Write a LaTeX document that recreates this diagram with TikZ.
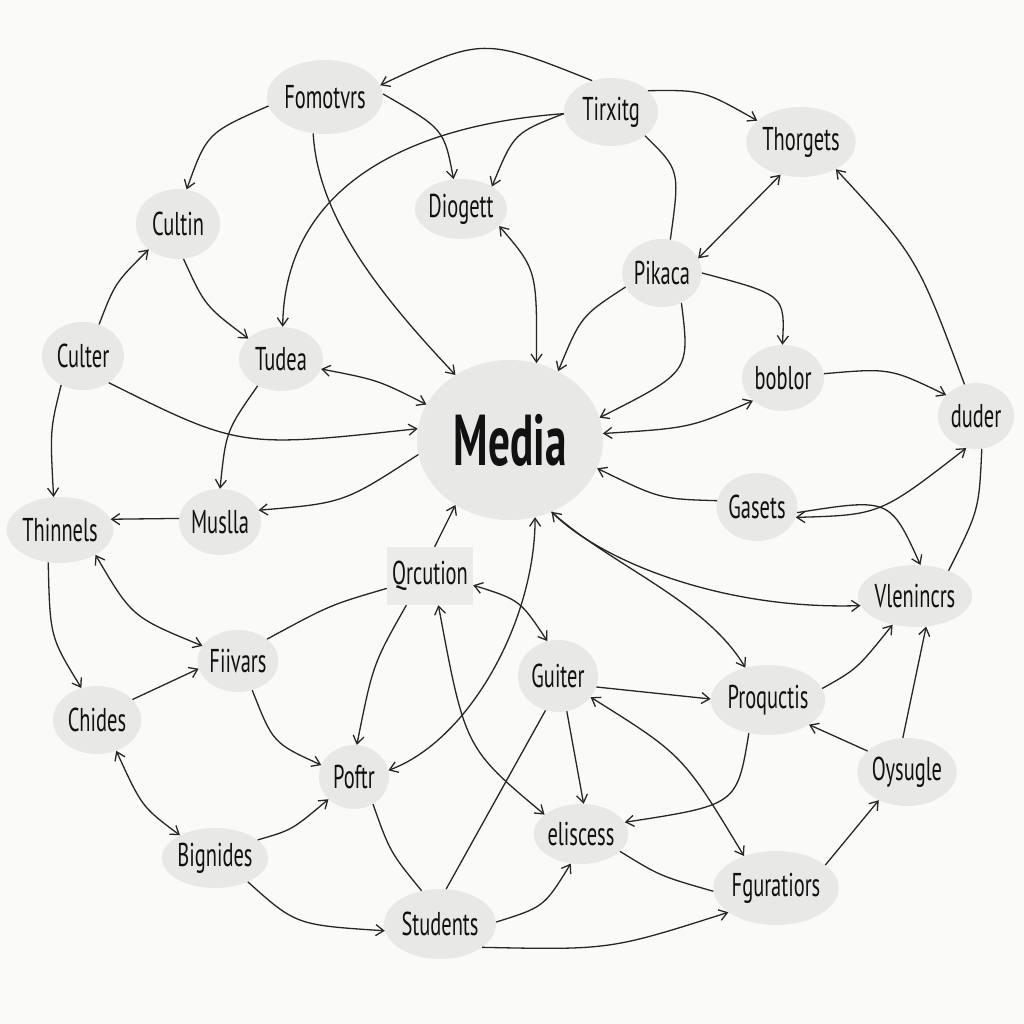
\documentclass[tikz,border=0pt]{standalone}
\usepackage{fontspec}
\setmainfont{PT Sans}[FakeStretch=0.62]
\newfontfamily\mediafont{PT Sans}[FakeStretch=0.6]
\usetikzlibrary{shapes.geometric,arrows.meta}
\definecolor{bg}{HTML}{FAFAF8}
\definecolor{blob}{HTML}{E8E8E6}
\definecolor{ink}{HTML}{262626}
\definecolor{txt}{HTML}{111111}
\tikzset{
  concept/.style={ellipse, fill=blob, inner sep=0pt, text=txt,
    font=\fontsize{33}{36}\selectfont},
  boxnode/.style={rectangle, fill=blob!85!bg, inner sep=0pt, text=txt,
    font=\fontsize{33}{36}\selectfont},
  link/.style={draw=ink, line width=1.3pt},
}
\begin{document}
\begin{tikzpicture}[x=1pt,y=-1pt,>={Straight Barb[length=8pt,width=11pt]}]
\fill[bg] (0,0) rectangle (1024,1024);
\useasboundingbox (0,0) rectangle (1024,1024);

% nodes
\node[concept, minimum width=116pt, minimum height=74pt] (fomo) at (325,97) {Fomotvrs};
\node[concept, minimum width=94pt, minimum height=68pt] (tirx) at (611,112) {Tirxitg};
\node[concept, minimum width=108pt, minimum height=70pt] (thor) at (801,142) {Thorgets};
\node[concept, minimum width=88pt, minimum height=60pt] (diog) at (461,209) {Diogett};
\node[concept, minimum width=84pt, minimum height=70pt] (cultin) at (178,224) {Cultin};
\node[concept, minimum width=78pt, minimum height=68pt] (pika) at (662,273) {Pikaca};
\node[concept, minimum width=82pt, minimum height=68pt] (culter) at (83,356) {Culter};
\node[concept, minimum width=84pt, minimum height=64pt] (tudea) at (281,359) {Tudea};
\node[concept, minimum width=186pt, minimum height=160pt,
      font=\mediafont\bfseries\fontsize{72}{74}\selectfont] (media) at (510,440) {Media};
\node[concept, minimum width=82pt, minimum height=66pt] (boblor) at (783,378) {boblor};
\node[concept, minimum width=76pt, minimum height=66pt] (duder) at (976,416) {duder};
\node[concept, minimum width=80pt, minimum height=68pt] (gasets) at (757,507) {Gasets};
\node[concept, minimum width=92pt, minimum height=66pt] (thin) at (60,530) {Thinnels};
\node[concept, minimum width=76pt, minimum height=66pt] (muslla) at (220,522) {Muslla};
\node[boxnode, minimum width=86pt, minimum height=58pt] (qrc) at (430,576) {Qrcution};
\node[concept, minimum width=88pt, minimum height=62pt] (vlen) at (915,596) {Vlenincrs};
\node[concept, minimum width=80pt, minimum height=62pt] (fiiv) at (238,661) {Fiivars};
\node[concept, minimum width=80pt, minimum height=72pt] (guiter) at (558,676) {Guiter};
\node[concept, minimum width=88pt, minimum height=68pt] (chides) at (97,720) {Chides};
\node[concept, minimum width=100pt, minimum height=70pt] (proq) at (768,700) {Proquctis};
\node[concept, minimum width=82pt, minimum height=68pt] (oysu) at (907,772) {Oysugle};
\node[concept, minimum width=70pt, minimum height=64pt] (poftr) at (354,777) {Poftr};
\node[concept, minimum width=72pt, minimum height=60pt] (elis) at (581,834) {eliscess};
\node[concept, minimum width=90pt, minimum height=60pt] (bign) at (215,858) {Bignides};
\node[concept, minimum width=110pt, minimum height=74pt] (fgur) at (776,888) {Fguratiors};
\node[concept, minimum width=112pt, minimum height=70pt] (stud) at (440,924) {Students};

% connectors
\draw[link,->] (tirx.121) .. controls (483,37) .. (fomo.12);
\draw[link,->] (fomo.189) .. controls (207,133) .. (cultin.76);
\draw[link,->] (fomo.3) .. controls (444,129) .. (diog.104);
\draw[link,->] (fomo.252) .. controls (318,220) and (385,300) .. (media.130);
\draw[link,->] (tirx.182) .. controls (514,133) .. (diog.36);
\draw[link,->] (tirx.182) .. controls (410,125) and (285,185) .. (tudea.87);
\draw[link,->] (tirx.30) .. controls (703,90) .. (thor.154);
\draw[link] (tirx.325) .. controls (680,170) .. (pika.76);
\draw[link,<->] (thor.238) -- (pika.22);
\draw[link,<->] (diog.336) .. controls (537,270) .. (media.71);
\draw[link,->] (pika.201) .. controls (581,316) .. (media.55);
\draw[link,->] (pika.303) .. controls (690,372) .. (media.14);
\draw[link,->] (pika.0) .. controls (785,295) .. (boblor.91);
\draw[link,<->] (boblor.217) .. controls (690,428) .. (media.4);
\draw[link,->] (boblor.6) .. controls (890,368) .. (duder.145);
\draw[link,->] (duder.110) .. controls (917,257) .. (thor.322);
\draw[link] (duder.280) .. controls (979,510) .. (vlen.37);
\draw[link,->] (gasets.171) .. controls (660,499) .. (media.342);
\draw[link,->] (gasets.352) .. controls (890,498) .. (vlen.80);
\draw[link,<->] (duder.253) .. controls (880,515) .. (gasets.345);
\draw[link,<->] (media.300) .. controls (600,560) and (720,610) .. (vlen.190);
\draw[link,->] (media.300) .. controls (610,565) and (705,600) .. (proq.125);
\draw[link,->] (culter.63) .. controls (115,283) .. (cultin.221);
\draw[link,->] (cultin.279) .. controls (205,306) .. (tudea.148);
\draw[link,->] (culter.314) .. controls (240,448) .. (media.173);
\draw[link,<->] (tudea.346) .. controls (378,380) .. (media.157);
\draw[link,->] (culter.233) .. controls (50,430) .. (thin.101);
\draw[link,->] (tudea.229) .. controls (226,431) .. (muslla.90);
\draw[link,->] (media.189) .. controls (344,503) .. (muslla.17);
\draw[link,->] (muslla.175) -- (thin.12);
\draw[link,<->] (thin.325) .. controls (132,617) .. (fiiv.157);
\draw[link,->] (thin.250) .. controls (50,637) .. (chides.116);
\draw[link,->] (chides.30) -- (fiiv.191);
\draw[link] (qrc.196) .. controls (330,605) .. (fiiv.37);
\draw[link,->] (qrc.81) -- (media.230);
\draw[link,->] (qrc.231) .. controls (373,664) .. (poftr.85);
\draw[link,<->] (qrc.348) .. controls (520,600) .. (guiter.107);
\draw[link,->] (fiiv.296) .. controls (273,743) .. (poftr.160);
\draw[link,<->] (chides.302) .. controls (142,807) .. (bign.147);
\draw[link,->] (bign.23) .. controls (292,830) .. (poftr.221);
\draw[link,->] (bign.324) .. controls (296,925) .. (stud.187);
\draw[link] (poftr.305) .. controls (390,852) .. (stud.119);
\draw[link,<->] (media.288) .. controls (535,620) and (470,740) .. (poftr.11);
\draw[link] (stud.80) -- (guiter.250);
\draw[link,<->] (qrc.286) .. controls (465,748) .. (elis.152);
\draw[link,->] (guiter.284) -- (elis.85);
\draw[link,->] (stud.2) .. controls (544,907) .. (elis.251);
\draw[link,->] (stud.331) .. controls (610,950) .. (fgur.207);
\draw[link,->] (guiter.344) -- (proq.179);
\draw[link,<->] (guiter.327) .. controls (683,755) .. (fgur.135);
\draw[link,->] (proq.240) .. controls (737,805) .. (elis.15);
\draw[link] (elis.336) .. controls (660,876) .. (fgur.183);
\draw[link,->] (fgur.25) -- (oysu.225);
\draw[link,->] (oysu.152) -- (proq.329);
\draw[link,->] (oysu.97) -- (vlen.290);
\draw[link,->] (proq.12) .. controls (857,669) .. (vlen.232);
\end{tikzpicture}
\end{document}
